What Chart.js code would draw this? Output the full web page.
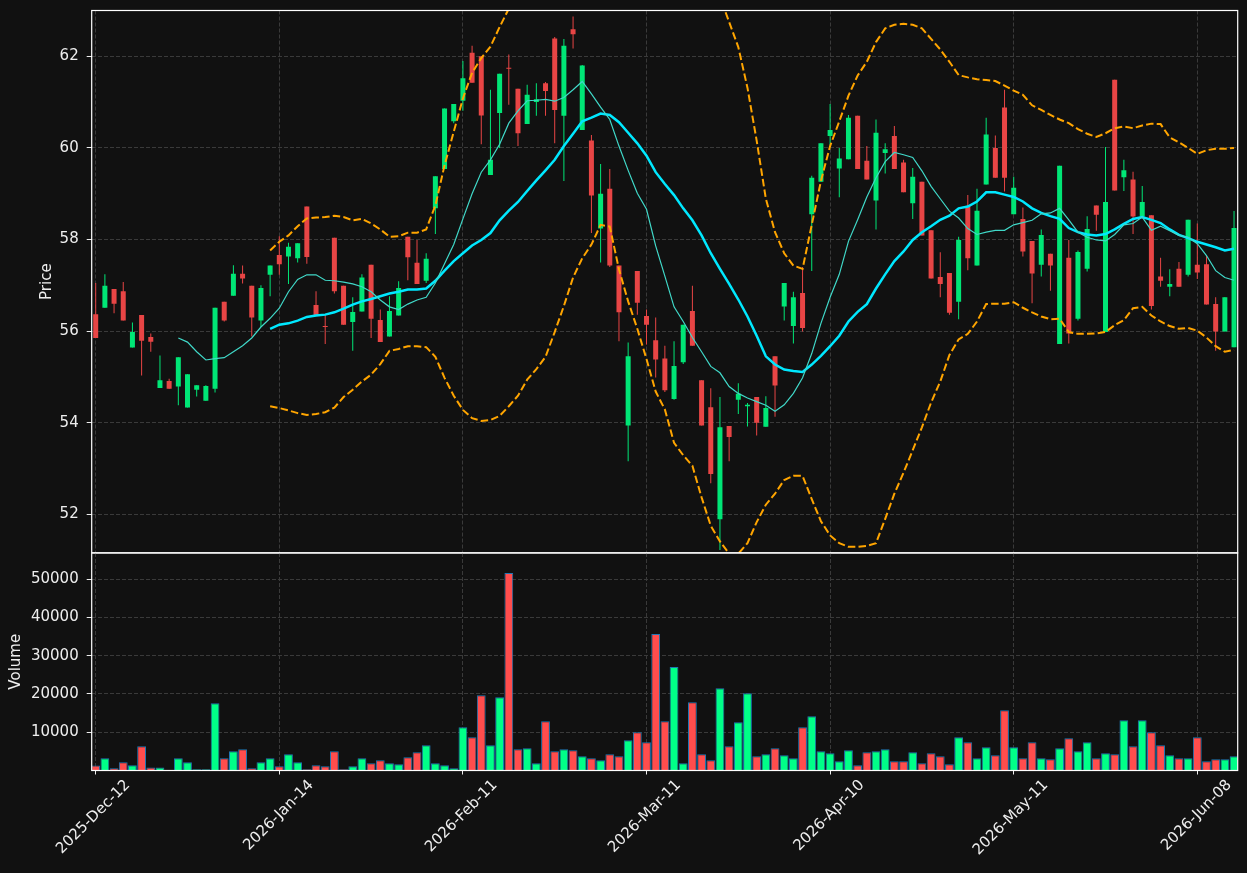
<!DOCTYPE html>
<html lang="en">
<head>
<meta charset="UTF-8">
<title>Price and volume</title>
<style>
  html, body { margin: 0; padding: 0; background: #111111; }
  #wrap { position: relative; width: 1247px; height: 873px; overflow: hidden; }
  canvas { position: absolute; left: 0; }
  #priceChart { top: 0; }
  #volumeChart { top: 545px; }
</style>
</head>
<body>
<div id="wrap">
  <canvas id="priceChart" width="1247" height="562"></canvas>
  <canvas id="volumeChart" width="1247" height="328"></canvas>
</div>
<script src="https://cdn.jsdelivr.net/npm/chart.js@4.4.1/dist/chart.umd.min.js"></script>
<script>
// x is the bar number; only every 20th bar gets a date label
const tickIndex = [0, 20, 40, 60, 80, 100, 120];
const tickLabels = ['2025-Dec-12', '2026-Jan-14', '2026-Feb-11', '2026-Mar-11', '2026-Apr-10', '2026-May-11', '2026-Jun-08'];
const priceTicks = [52, 54, 56, 58, 60, 62];
const volumeTicks = [10000, 20000, 30000, 40000, 50000];

const opens = [
  56.37, 56.51, 56.92, 56.87, 55.64, 56.35, 55.87, 54.76, 54.91, 54.79,
  54.33, 54.72, 54.48, 54.74, 56.64, 56.77, 57.25, 56.99, 56.23, 57.23,
  57.66, 57.63, 57.59, 58.72, 56.57, 56.11, 58.04, 56.99, 56.20, 56.43,
  57.45, 56.24, 55.88, 56.34, 58.06, 57.49, 57.10, 58.68, 59.54, 60.58,
  61.03, 62.08, 62.00, 59.41, 60.76, 61.75, 61.29, 60.52, 61.00, 61.41,
  62.39, 60.70, 62.59, 60.39, 60.16, 58.24, 59.11, 57.43, 53.94, 57.31,
  56.33, 55.80, 55.40, 54.52, 55.32, 56.44, 54.93, 54.34, 51.89, 53.93,
  54.50, 54.36, 54.56, 53.91, 55.45, 56.54, 56.11, 56.83, 58.55, 59.26,
  60.26, 59.55, 59.75, 60.70, 59.72, 58.85, 59.89, 60.26, 59.68, 58.79,
  59.26, 58.20, 57.18, 57.27, 56.64, 58.73, 57.43, 59.20, 60.00, 60.88,
  58.55, 58.45, 57.97, 57.45, 57.69, 55.72, 57.60, 56.27, 57.36, 58.74,
  55.98, 61.49, 59.36, 59.31, 58.50, 58.53, 57.19, 56.97, 57.36, 57.23,
  57.45, 57.46, 56.59, 55.99, 55.65
];
const highs = [
  57.05, 57.24, 56.92, 57.07, 56.19, 56.35, 55.95, 55.47, 54.96, 55.43,
  55.06, 54.82, 54.82, 56.51, 56.64, 57.44, 57.43, 56.99, 57.00, 57.43,
  58.07, 57.93, 57.92, 58.72, 56.87, 56.36, 58.04, 56.99, 56.74, 57.24,
  57.45, 56.47, 56.76, 57.09, 58.06, 57.99, 57.70, 59.38, 60.86, 60.96,
  61.90, 62.23, 62.00, 61.27, 61.62, 62.04, 61.29, 61.38, 61.41, 61.44,
  62.42, 62.38, 62.87, 61.81, 60.28, 59.65, 59.54, 57.43, 55.75, 57.31,
  56.47, 56.30, 55.68, 55.78, 56.14, 56.99, 54.93, 54.75, 54.56, 53.93,
  54.86, 54.43, 54.56, 54.58, 55.45, 57.05, 56.86, 57.40, 59.39, 60.10,
  60.96, 60.00, 60.72, 60.70, 60.04, 60.62, 60.10, 60.48, 59.74, 59.56,
  59.26, 58.20, 57.72, 57.27, 58.06, 58.97, 59.11, 60.66, 60.27, 61.27,
  59.37, 58.70, 57.97, 58.22, 57.69, 59.61, 57.99, 57.76, 58.51, 58.74,
  60.02, 61.49, 59.74, 59.48, 59.17, 58.53, 57.60, 57.35, 57.51, 58.43,
  58.35, 57.66, 56.74, 56.74, 58.62
];
const lows = [
  55.85, 56.51, 56.39, 56.23, 55.64, 55.03, 55.55, 54.76, 54.74, 54.38,
  54.33, 54.57, 54.48, 54.66, 56.21, 56.77, 57.04, 55.88, 56.09, 56.76,
  57.23, 57.03, 57.50, 57.47, 56.34, 55.72, 56.82, 56.14, 55.57, 56.43,
  55.85, 55.76, 55.88, 56.34, 57.11, 57.03, 57.05, 58.12, 59.54, 60.54,
  60.81, 61.42, 60.08, 59.41, 60.00, 60.94, 60.04, 60.52, 60.70, 60.70,
  60.10, 59.28, 62.17, 60.39, 58.14, 57.50, 57.40, 55.78, 53.16, 56.36,
  55.71, 54.99, 54.67, 54.50, 55.28, 55.68, 53.94, 52.68, 51.22, 53.16,
  54.19, 53.92, 53.72, 53.91, 54.13, 56.23, 55.73, 55.99, 57.31, 59.26,
  60.06, 58.92, 59.75, 59.54, 59.31, 58.22, 59.44, 59.54, 59.03, 58.45,
  58.09, 57.15, 56.74, 56.36, 56.26, 57.33, 57.43, 59.20, 59.35, 59.05,
  58.55, 57.63, 56.61, 57.19, 56.88, 55.72, 55.73, 56.23, 57.30, 58.19,
  55.98, 59.07, 59.06, 58.12, 58.50, 56.47, 56.97, 56.76, 56.97, 57.19,
  57.14, 56.58, 55.57, 55.99, 55.65
];
const closes = [
  55.85, 56.99, 56.60, 56.23, 55.98, 55.79, 55.77, 54.93, 54.74, 55.43,
  55.06, 54.82, 54.80, 56.51, 56.23, 57.25, 57.15, 56.30, 56.94, 57.43,
  57.46, 57.84, 57.92, 57.62, 56.34, 56.09, 56.87, 56.14, 56.42, 57.17,
  56.27, 55.76, 56.44, 56.94, 57.61, 57.03, 57.58, 59.38, 60.86, 60.96,
  61.52, 61.42, 60.71, 59.74, 61.62, 61.73, 60.32, 61.16, 61.06, 61.24,
  60.83, 62.23, 62.48, 61.80, 58.96, 59.00, 57.43, 56.41, 55.45, 56.62,
  56.14, 55.38, 54.71, 55.24, 56.14, 55.68, 53.94, 52.88, 53.90, 53.69,
  54.63, 54.39, 54.00, 54.32, 54.81, 57.05, 56.74, 56.07, 59.35, 60.10,
  60.39, 59.77, 60.66, 59.54, 59.31, 60.33, 59.97, 59.54, 59.03, 59.37,
  58.09, 57.15, 57.03, 56.40, 57.99, 57.59, 58.63, 60.29, 59.35, 59.35,
  59.13, 57.74, 57.26, 58.10, 57.43, 59.61, 55.95, 57.73, 58.23, 58.54,
  58.82, 59.07, 59.51, 58.50, 58.82, 56.55, 57.10, 57.03, 56.97, 58.43,
  57.28, 56.58, 55.99, 56.74, 58.25
];
const volumes = [
  1290, 3210, 590, 2160, 1380, 6340, 770, 770, 100, 3210,
  2160, 330, 330, 17590, 3210, 5040, 5560, 590, 2160, 3210,
  1120, 4250, 2160, 330, 1380, 1120, 5040, 330, 1120, 3210,
  1900, 2680, 1900, 1640, 3470, 4780, 6610, 1900, 1380, 590,
  11310, 8700, 19680, 6610, 19150, 51570, 5560, 5820, 1900, 12880,
  5040, 5560, 5300, 3730, 3210, 2680, 4250, 3730, 7910, 10000,
  7390, 35630, 12880, 27000, 1900, 17850, 4250, 2680, 21510, 6340,
  12620, 20200, 3730, 4250, 5820, 3990, 3210, 11310, 14190, 5040,
  4510, 2420, 5300, 1380, 4780, 5040, 5560, 2420, 2420, 4780,
  1900, 4510, 3730, 1640, 8700, 7390, 3210, 6080, 3990, 15760,
  6080, 3210, 7390, 3210, 2950, 5820, 8440, 5040, 7390, 3210,
  4510, 4250, 13140, 6340, 13140, 10000, 6610, 3990, 3210, 3210,
  8700, 2420, 2950, 2950, 3730
];
// moving averages and bands (no value before the window fills)
const ma10 = [
  null, null, null, null, null, null, null, null, null, 55.85,
  55.76, 55.55, 55.37, 55.40, 55.42, 55.55, 55.68, 55.85, 56.09, 56.28,
  56.50, 56.86, 57.13, 57.23, 57.23, 57.11, 57.10, 57.07, 57.03, 56.97,
  56.86, 56.68, 56.53, 56.47, 56.59, 56.68, 56.74, 57.05, 57.47, 57.89,
  58.45, 59.00, 59.47, 59.74, 60.08, 60.54, 60.81, 61.03, 61.04, 61.06,
  61.02, 61.10, 61.27, 61.45, 61.18, 60.89, 60.62, 60.04, 59.51, 59.01,
  58.66, 57.86, 57.20, 56.53, 56.21, 55.86, 55.55, 55.23, 55.09, 54.79,
  54.64, 54.54, 54.46, 54.38, 54.25, 54.39, 54.64, 54.98, 55.51, 56.17,
  56.74, 57.24, 57.96, 58.43, 58.93, 59.35, 59.70, 59.90, 59.85, 59.79,
  59.50, 59.16, 58.89, 58.62, 58.47, 58.24, 58.11, 58.16, 58.20, 58.20,
  58.32, 58.37, 58.42, 58.56, 58.58, 58.68, 58.43, 58.16, 58.05, 57.99,
  57.97, 58.11, 58.32, 58.35, 58.49, 58.20, 58.29, 58.19, 58.09, 58.05,
  57.91, 57.65, 57.32, 57.17, 57.11
];
const ma20 = [
  null, null, null, null, null, null, null, null, null, null,
  null, null, null, null, null, null, null, null, null, 56.05,
  56.14, 56.17, 56.23, 56.31, 56.34, 56.36, 56.41, 56.49, 56.58, 56.65,
  56.70, 56.76, 56.82, 56.86, 56.91, 56.91, 56.93, 57.10, 57.32, 57.53,
  57.70, 57.87, 57.99, 58.14, 58.42, 58.63, 58.82, 59.06, 59.29, 59.51,
  59.74, 60.04, 60.31, 60.58, 60.66, 60.75, 60.72, 60.56, 60.33, 60.10,
  59.83, 59.47, 59.21, 58.97, 58.68, 58.42, 58.09, 57.70, 57.36, 57.03,
  56.69, 56.32, 55.90, 55.45, 55.27, 55.16, 55.13, 55.11, 55.27, 55.46,
  55.67, 55.90, 56.21, 56.42, 56.59, 56.93, 57.24, 57.53, 57.74, 57.99,
  58.16, 58.29, 58.43, 58.52, 58.68, 58.72, 58.83, 59.03, 59.03, 58.98,
  58.93, 58.83, 58.68, 58.58, 58.51, 58.45, 58.25, 58.16, 58.11, 58.09,
  58.12, 58.22, 58.34, 58.45, 58.49, 58.43, 58.36, 58.22, 58.10, 58.03,
  57.95, 57.89, 57.83, 57.76, 57.80
];
// the upper band runs off the top of the panel between bars 45 and 68 (estimated there)
const bbUpper = [
  null, null, null, null, null, null, null, null, null, null,
  null, null, null, null, null, null, null, null, null, 57.76,
  57.95, 58.09, 58.29, 58.46, 58.48, 58.49, 58.52, 58.49, 58.42, 58.45,
  58.35, 58.22, 58.06, 58.07, 58.15, 58.15, 58.22, 58.74, 59.62, 60.35,
  61.08, 61.64, 61.96, 62.21, 62.64, 63.04, 63.10, 63.20, 63.40, 63.55,
  63.50, 63.55, 63.45, 63.55, 63.45, 63.25, 63.25, 63.75, 64.00, 64.15,
  64.25, 64.25, 64.15, 64.30, 64.10, 63.80, 63.80, 63.60, 63.30, 62.75,
  62.20, 61.31, 60.16, 58.89, 58.16, 57.70, 57.43, 57.36, 58.32, 59.28,
  60.04, 60.58, 61.14, 61.58, 61.88, 62.31, 62.61, 62.69, 62.71, 62.69,
  62.61, 62.38, 62.15, 61.88, 61.59, 61.54, 61.50, 61.48, 61.46, 61.36,
  61.25, 61.16, 60.93, 60.83, 60.72, 60.62, 60.54, 60.41, 60.31, 60.24,
  60.32, 60.43, 60.47, 60.43, 60.49, 60.53, 60.52, 60.23, 60.12, 60.00,
  59.87, 59.95, 59.98, 59.98, 60.00
];
const bbLower = [
  null, null, null, null, null, null, null, null, null, null,
  null, null, null, null, null, null, null, null, null, 54.36,
  54.32, 54.27, 54.21, 54.17, 54.19, 54.23, 54.33, 54.56, 54.72, 54.90,
  55.05, 55.28, 55.57, 55.61, 55.67, 55.67, 55.65, 55.44, 54.98, 54.59,
  54.28, 54.10, 54.04, 54.06, 54.15, 54.36, 54.59, 54.94, 55.17, 55.44,
  55.98, 56.55, 57.17, 57.59, 57.89, 58.32, 58.28, 57.35, 56.65, 56.05,
  55.39, 54.68, 54.29, 53.56, 53.29, 53.06, 52.37, 51.75, 51.41, 51.14,
  51.14, 51.37, 51.83, 52.21, 52.45, 52.75, 52.84, 52.84, 52.33, 51.85,
  51.54, 51.37, 51.29, 51.29, 51.31, 51.37, 51.90, 52.45, 52.91, 53.40,
  53.90, 54.44, 54.90, 55.48, 55.82, 55.94, 56.21, 56.59, 56.60, 56.60,
  56.63, 56.51, 56.41, 56.32, 56.26, 56.27, 55.98, 55.94, 55.94, 55.95,
  55.98, 56.13, 56.24, 56.50, 56.53, 56.34, 56.21, 56.11, 56.05, 56.07,
  56.01, 55.86, 55.67, 55.55, 55.59
];

const X_MIN = -0.436, X_MAX = 124.4;
const textColor = '#eeeeee';
const gridColor = '#3a3a3a';
const upColor = '#00e676', downColor = '#e84545';
const volUpColor = '#00ff88', volDownColor = '#ff4d4d';

Chart.defaults.font.family = "'DejaVu Sans', sans-serif";
Chart.defaults.font.size = 15;
Chart.defaults.color = textColor;

const idx = opens.map((o, i) => i);
const isUp = idx.map(i => closes[i] >= opens[i]);
const pts = arr => arr.map((v, i) => ({x: i, y: v}));

const fixedTicks = values => scale => { scale.ticks = values.map(v => ({value: v})); };

const framePlugin = {
  id: 'frame',
  afterDraw(chart) {
    const {ctx, chartArea: a} = chart;
    ctx.save();
    ctx.strokeStyle = '#ffffff';
    ctx.lineWidth = 1.2;
    ctx.strokeRect(a.left, a.top, a.right - a.left, a.bottom - a.top);
    ctx.restore();
  }
};

function xAxis(withLabels) {
  return {
    type: 'linear', min: X_MIN, max: X_MAX, offset: false,
    afterBuildTicks: fixedTicks(tickIndex),
    afterFit: s => { s.height = withLabels ? 102.5 : 0; s.paddingLeft = 0; s.paddingRight = 0; },
    grid: {color: gridColor, lineWidth: 1, offset: false, drawTicks: withLabels, tickLength: 4, tickColor: textColor, tickBorderDash: []},
    border: {display: false, dash: [4, 2]},
    ticks: {
      display: withLabels, autoSkip: false, minRotation: 45, maxRotation: 45,
      labelOffset: 32, padding: 2, color: textColor,
      callback: (v, i) => tickLabels[i]
    }
  };
}

function yAxis(min, max, ticks, title, titlePad) {
  return {
    type: 'linear', position: 'left', min: min, max: max, beginAtZero: false,
    afterBuildTicks: fixedTicks(ticks),
    afterFit: s => { s.width = 91.7; s.paddingTop = 0; s.paddingBottom = 0; },
    grid: {color: gridColor, lineWidth: 1, tickLength: 5, tickColor: textColor, tickBorderDash: []},
    border: {display: false, dash: [4, 2]},
    ticks: {color: textColor, padding: 8, callback: v => String(v)},
    title: {display: true, text: title, color: textColor, font: {size: 15}, padding: {top: titlePad, bottom: 0}}
  };
}

const common = {
  responsive: false,
  animation: false,
  devicePixelRatio: 1,
  events: [],
  plugins: {legend: {display: false}, tooltip: {enabled: false}}
};

const lineStyle = {type: 'line', pointRadius: 0, tension: 0, fill: false, clip: 0, spanGaps: false, order: 0};

new Chart(document.getElementById('priceChart'), {
  type: 'bar',
  data: {
    datasets: [
      {...lineStyle, label: 'MA10', data: pts(ma10), borderColor: '#40d8c8', borderWidth: 1.2},
      {...lineStyle, label: 'MA20', data: pts(ma20), borderColor: '#00e8ff', borderWidth: 2.5},
      {...lineStyle, label: 'BB upper', data: pts(bbUpper), borderColor: '#ffa500', borderWidth: 2, borderDash: [7.5, 3.2]},
      {...lineStyle, label: 'BB lower', data: pts(bbLower), borderColor: '#ffa500', borderWidth: 2, borderDash: [7.5, 3.2]},
      {
        label: 'Body', order: 1, grouped: false, barThickness: 5, minBarLength: 1, inflateAmount: 0,
        data: idx.map(i => ({x: i, y: [opens[i], closes[i]]})),
        backgroundColor: isUp.map(u => u ? upColor : downColor)
      },
      {
        label: 'Wick', order: 2, grouped: false, barThickness: 1, inflateAmount: 0,
        data: idx.map(i => ({x: i, y: [lows[i], highs[i]]})),
        backgroundColor: isUp.map(u => u ? upColor : downColor)
      }
    ]
  },
  options: {
    ...common,
    layout: {padding: {left: 0, top: 10.5, right: 9.3, bottom: 9.2}},
    scales: {
      x: xAxis(false),
      y: yAxis(51.16, 63.0, priceTicks, 'Price', 37.7)
    }
  },
  plugins: [framePlugin]
});

new Chart(document.getElementById('volumeChart'), {
  type: 'bar',
  data: {
    datasets: [{
      label: 'Volume', barThickness: 8.8, inflateAmount: 0,
      data: idx.map(i => ({x: i, y: volumes[i]})),
      backgroundColor: isUp.map(u => u ? volUpColor : volDownColor),
      borderColor: '#1f77b4', borderWidth: 1
    }]
  },
  options: {
    ...common,
    layout: {padding: {left: 0, top: 8, right: 9.3, bottom: 0}},
    scales: {
      x: xAxis(true),
      y: yAxis(0, 56800, volumeTicks, 'Volume', 7)
    }
  },
  plugins: [framePlugin]
});
</script>
</body>
</html>
